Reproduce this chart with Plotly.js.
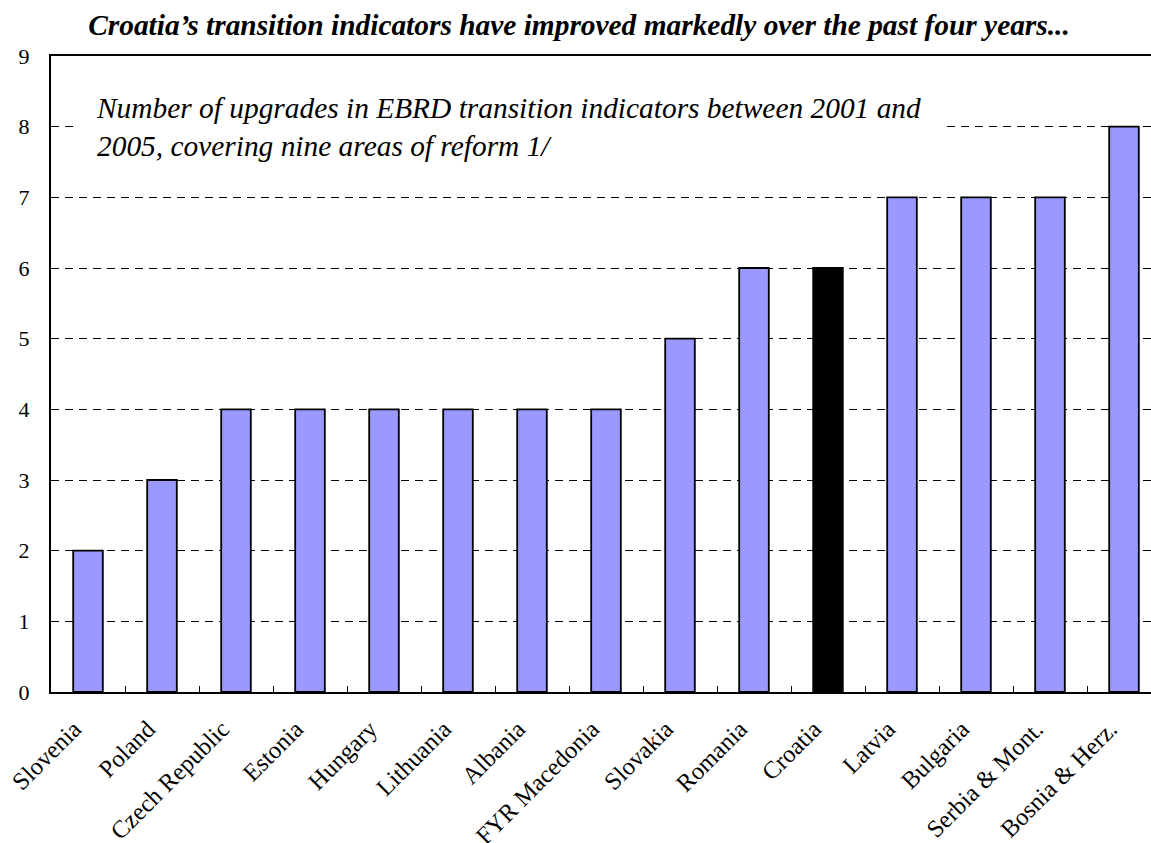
<!DOCTYPE html>
<html>
<head>
<meta charset="utf-8">
<script src="https://cdn.plot.ly/plotly-3.0.1.min.js"></script>
<style>
  html, body { margin: 0; padding: 0; overflow: hidden; background: #fff; }
  #chart { width: 1170px; height: 843px; }
</style>
</head>
<body>
<div id="chart"></div>
<script>
// Number of upgrades in EBRD transition indicators, 2001-2005
const countries = ['Slovenia', 'Poland', 'Czech Republic', 'Estonia', 'Hungary', 'Lithuania',
  'Albania', 'FYR Macedonia', 'Slovakia', 'Romania', 'Croatia', 'Latvia', 'Bulgaria',
  'Serbia & Mont.', 'Bosnia & Herz.'];
const upgrades = [2, 3, 4, 4, 4, 4, 4, 4, 5, 6, 6, 7, 7, 7, 8];
const highlight = 'Croatia';
const yTicks = [0, 1, 2, 3, 4, 5, 6, 7, 8, 9];

const serif = '"Liberation Serif", "Times New Roman", serif';
const barColors = countries.map(c => c === highlight ? '#000000' : '#9999FF');

const trace = {
  type: 'bar',
  x: countries,
  y: upgrades,
  marker: { color: barColors, line: { color: '#000', width: 1.8 } },
  hoverinfo: 'x+y'
};

const layout = {
  width: 1170,
  height: 843,
  margin: { l: 51, r: 9, t: 56, b: 151 },
  paper_bgcolor: '#fff',
  plot_bgcolor: '#fff',
  bargap: 0.6,
  showlegend: false,
  font: { family: serif, color: '#000' },
  title: {
    text: 'Croatia\u2019s transition indicators have improved markedly over the past four years...',
    font: { family: serif, size: 29.4, color: '#000', weight: 'bold', style: 'italic' },
    xref: 'container', x: 579 / 1170, xanchor: 'center',
    yref: 'container', y: 1 - 14 / 843, yanchor: 'top'
  },
  xaxis: {
    type: 'category',
    showline: true, linecolor: '#000', linewidth: 2, mirror: true,
    ticks: 'inside', tickson: 'boundaries', ticklen: 6, tickwidth: 1, tickcolor: '#000',
    tickangle: -45,
    ticklabelstandoff: 11, ticklabelshift: -14,
    tickfont: { family: serif, size: 24.5, color: '#000' },
    showgrid: false, zeroline: false
  },
  yaxis: {
    range: [0, 9],
    tickvals: yTicks,
    ticktext: yTicks.map(String),
    showline: true, linecolor: '#000', linewidth: 2, mirror: true,
    ticks: '', ticklabelstandoff: 15,
    tickfont: { family: serif, size: 22, color: '#000' },
    showgrid: true, gridcolor: '#000', gridwidth: 1, griddash: '8px,6px',
    zeroline: false
  },
  annotations: [{
    xref: 'paper', yref: 'paper',
    x: 24 / 1110, y: 8.0 / 9,
    xanchor: 'left', yanchor: 'middle',
    align: 'left',
    showarrow: false,
    bgcolor: '#fff',
    borderpad: 20,
    width: 828,
    text: 'Number of upgrades in EBRD transition indicators between 2001 and<br>2005, covering nine areas of reform 1/',
    font: { family: serif, size: 29.4, color: '#000', style: 'italic' }
  }]
};

Plotly.newPlot('chart', [trace], layout, { displayModeBar: false, staticPlot: true });
</script>
</body>
</html>
